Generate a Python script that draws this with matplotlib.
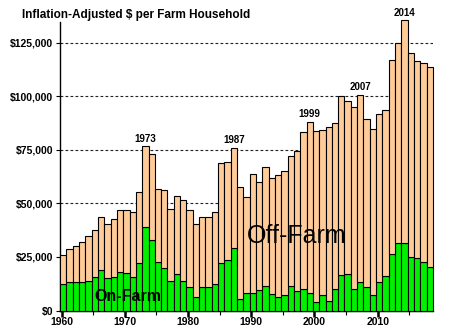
import numpy as np
import matplotlib
matplotlib.use("Agg")
from matplotlib import pyplot as plt
from matplotlib.ticker import MultipleLocator, FuncFormatter

plt.rcParams['font.family'] = ['Liberation Sans', 'DejaVu Sans']

# Data
years = list(range(1960, 2019))

# total income per farm household (top of each bar)
total_income = [25800, 28600, 30300, 32000, 34700, 37600, 43800, 40300, 42600, 47000,
                47000, 45900, 55500, 76700, 73000, 56900, 56100, 47300, 53300, 51800,
                46800, 40300, 43700, 43500, 45900, 68800, 69500, 76100, 57900, 53000,
                63600, 59900, 67200, 61800, 63500, 65200, 72400, 74500, 83600, 88300,
                83900, 84300, 85600, 87600, 100100, 97900, 95000, 100700, 89500, 84800,
                92000, 93500, 117000, 125000, 135600, 120200, 116600, 115800, 113600]

# on-farm part (green)
on_farm = [12500, 13500, 13500, 13500, 13900, 15500, 18800, 15000, 15500, 18000,
           17400, 15500, 22000, 39000, 32800, 22800, 19700, 13600, 17200, 13700,
           11000, 6200, 11000, 11000, 12400, 22200, 23600, 29000, 5400, 8000,
           8000, 9600, 11400, 7600, 6500, 7100, 11400, 9100, 10200, 8300,
           4000, 7100, 4600, 10200, 16600, 17000, 10200, 13200, 11000, 7400,
           13200, 16000, 26300, 31400, 31400, 24900, 24400, 22800, 20200]

peak_years = [1973, 1987, 1999, 2007, 2014]

x = np.array(years) + 0.25
on = np.array(on_farm)
off = np.array(total_income) - on

fig = plt.figure(figsize=(4.49, 3.36), dpi=100)
ax = fig.add_axes([60/449, 25.5/336, 373/449, 288.5/336])

ax.bar(x, on, width=1.0, color='#00f000', edgecolor='black', linewidth=0.8, zorder=3, clip_on=False)
ax.bar(x, off, width=1.0, bottom=on, color='#ffcc99', edgecolor='black', linewidth=0.8, zorder=3, clip_on=False)

ax.set_xlim(1959.75, 2018.75)
ax.set_ylim(0, 134800)

for yv in [25000, 50000, 75000, 100000, 125000]:
    ax.axhline(yv, color='#222222', linestyle=(0, (2.5, 2)), linewidth=0.8, zorder=1)

ax.yaxis.set_major_locator(MultipleLocator(25000))
ax.yaxis.set_major_formatter(FuncFormatter(lambda v, p: "${:,.0f}".format(v)))
ax.xaxis.set_major_locator(MultipleLocator(10))
ax.xaxis.set_minor_locator(MultipleLocator(5))

ax.tick_params(axis='y', length=3, width=0.8, labelsize=7.5, pad=2)
ax.tick_params(axis='x', which='major', length=4, width=1.8, labelsize=7.5, pad=1)
ax.tick_params(axis='x', which='minor', length=3, width=0.8)
for lab in ax.get_xticklabels() + ax.get_yticklabels():
    lab.set_fontweight('bold')

ax.spines['top'].set_visible(False)
ax.spines['right'].set_visible(False)
ax.spines['left'].set_linewidth(1.0)
ax.spines['bottom'].set_linewidth(1.0)

for yr in peak_years:
    i = years.index(yr)
    ax.annotate(str(yr), (x[i], total_income[i]), xytext=(0, 2), textcoords='offset points',
                ha='center', va='bottom', fontsize=7, fontweight='bold', annotation_clip=False)

fig.text(22/449, 1 - 15/336, "Inflation-Adjusted $ per Farm Household", fontsize=8.5,
         fontweight='bold', ha='left', va='center')
fig.text(297/449, 1 - 236/336, "Off-Farm", fontsize=18, ha='center', va='center')
fig.text(128/449, 1 - 296.5/336, "On-Farm", fontsize=11.5, fontweight='bold', ha='center', va='center')

fig.savefig("out.png", dpi=100)
